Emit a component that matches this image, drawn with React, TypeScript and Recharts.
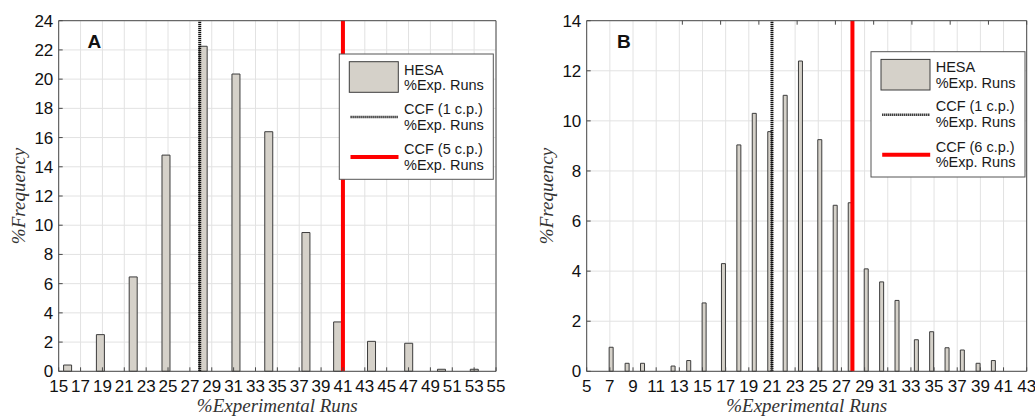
import React from 'react';
import { ComposedChart, Bar, XAxis, YAxis, CartesianGrid, ReferenceLine } from 'recharts';

// Panel A: HESA histogram (bin centres, % frequency)
const binsA = [15.8, 18.8, 21.8, 24.8, 28.2, 31.2, 34.2, 37.6, 40.5, 43.6, 47.0, 50.0, 53.0];
const freqA = [0.43, 2.51, 6.46, 14.8, 22.25, 20.35, 16.4, 9.5, 3.38, 2.05, 1.92, 0.14, 0.14];
const ccf1A = 27.9;
const ccf5A = 41.0;
const xTicksA = [15, 17, 19, 21, 23, 25, 27, 29, 31, 33, 35, 37, 39, 41, 43, 45, 47, 49, 51, 53, 55];
const yTicksA = [0, 2, 4, 6, 8, 10, 12, 14, 16, 18, 20, 22, 24];

// Panel B
const binsB = [7.07, 8.45, 9.78, 12.42, 13.77, 15.1, 16.77, 18.1, 19.43, 20.77, 22.1, 23.42,
  25.09, 26.42, 27.72, 29.1, 30.43, 31.76, 33.43, 34.75, 36.08, 37.4, 38.76, 40.08];
const freqB = [0.96, 0.32, 0.32, 0.21, 0.43, 2.73, 4.3, 9.04, 10.3, 9.57, 11.02, 12.39,
  9.25, 6.63, 6.73, 4.09, 3.57, 2.83, 1.26, 1.58, 0.94, 0.85, 0.32, 0.43];
const ccf1B = 21.0;
const ccf6B = 27.95;
const xTicksB = [5, 7, 9, 11, 13, 15, 17, 19, 21, 23, 25, 27, 29, 31, 33, 35, 37, 39, 41, 43];
const yTicksB = [0, 2, 4, 6, 8, 10, 12, 14];

const legendLabelsA = ['HESA', 'CCF (1 c.p.)', 'CCF (5 c.p.)'];
const legendLabelsB = ['HESA', 'CCF (1 c.p.)', 'CCF (6 c.p.)'];

const SANS = '"Liberation Sans", Arial, sans-serif';
const SERIF = '"Liberation Serif", "Times New Roman", serif';
const AXIS = '#4a4a4a';
const tickStyle = { fontSize: 17, fill: '#111', fontFamily: SANS };

interface PanelProps {
  bins: number[];
  freq: number[];
  ccfA: number;
  ccfB: number;
  xTicks: number[];
  yTicks: number[];
  width: number;
  yAxisWidth: number;
  rightWidth: number;
  barSize: number;
}

const Panel = ({ bins, freq, ccfA, ccfB, xTicks, yTicks, width, yAxisWidth, rightWidth, barSize }: PanelProps) => {
  const data = bins.map((b, i) => ({ bin: b, freq: freq[i] }));
  const xDomain = [xTicks[0], xTicks[xTicks.length - 1]];
  const yDomain = [yTicks[0], yTicks[yTicks.length - 1]];
  return (
    <ComposedChart width={width} height={416} data={data} margin={{ top: 0, right: 0, bottom: 0, left: 0 }}>
      <CartesianGrid stroke="#e2e2e2" />
      <XAxis
        dataKey="bin"
        type="number"
        domain={xDomain}
        ticks={xTicks}
        interval={0}
        height={44.7}
        tickSize={-4}
        tickMargin={12.5}
        axisLine={{ stroke: AXIS }}
        tickLine={{ stroke: AXIS }}
        tick={tickStyle}
      />
      <XAxis
        xAxisId="top"
        orientation="top"
        type="number"
        domain={xDomain}
        ticks={xTicks}
        interval={0}
        height={20.7}
        tickSize={-4}
        axisLine={{ stroke: AXIS }}
        tickLine={{ stroke: AXIS }}
        tickFormatter={() => ''}
      />
      <YAxis
        type="number"
        domain={yDomain}
        ticks={yTicks}
        interval={0}
        width={yAxisWidth}
        tickSize={-4}
        tickMargin={9.4}
        axisLine={{ stroke: AXIS }}
        tickLine={{ stroke: AXIS }}
        tick={tickStyle}
      />
      <YAxis
        yAxisId="right"
        orientation="right"
        type="number"
        domain={yDomain}
        ticks={yTicks}
        interval={0}
        width={rightWidth}
        tickSize={-4}
        axisLine={{ stroke: AXIS }}
        tickLine={{ stroke: AXIS }}
        tickFormatter={() => ''}
      />
      <Bar dataKey="freq" barSize={barSize} fill="#d5d1c9" stroke="#3c3c3c" strokeWidth={1} isAnimationActive={false} />
      <ReferenceLine x={ccfA} stroke="#111" strokeWidth={3} strokeDasharray="1.2 0.8" />
      <ReferenceLine x={ccfB} stroke="#ff0000" strokeWidth={4} />
    </ComposedChart>
  );
};

const LegendBox = ({ x, y, labels }: { x: number; y: number; labels: string[] }) => {
  const tx = x + 64.7;
  const t = { fontFamily: SANS, fontSize: 14.5, fill: '#1a1a1a' };
  return (
    <g>
      <rect x={x} y={y} width={154} height={125.3} fill="#fff" stroke="#555" strokeWidth={1} />
      <rect x={x + 10} y={y + 7.7} width={49} height={30.6} fill="#d5d1c9" stroke="#3c3c3c" strokeWidth={1} />
      <text x={tx} y={y + 20.5} {...t}>{labels[0]}</text>
      <text x={tx} y={y + 36} {...t}>%Exp. Runs</text>
      <line x1={x + 11.2} x2={x + 59.2} y1={y + 63} y2={y + 63} stroke="#111" strokeWidth={2.5} strokeDasharray="1.2 0.8" />
      <text x={tx} y={y + 59.5} {...t}>{labels[1]}</text>
      <text x={tx} y={y + 75.5} {...t}>%Exp. Runs</text>
      <line x1={x + 11.2} x2={x + 59.2} y1={y + 103} y2={y + 103} stroke="#ff0000" strokeWidth={4} />
      <text x={tx} y={y + 100} {...t}>{labels[2]}</text>
      <text x={tx} y={y + 115.5} {...t}>%Exp. Runs</text>
    </g>
  );
};

export default function App() {
  const labelStyle = { fontFamily: SERIF, fontStyle: 'italic' as const, fontSize: 19, fill: '#333' };
  return (
    <div style={{ position: 'absolute', left: 0, top: 0, width: 1035, height: 416, background: '#fff', overflow: 'hidden' }}>
      <div style={{ position: 'absolute', left: 0, top: 0 }}>
        <Panel bins={binsA} freq={freqA} ccfA={ccf1A} ccfB={ccf5A} xTicks={xTicksA} yTicks={yTicksA}
          width={520} yAxisWidth={58.7} rightWidth={24} barSize={8} />
      </div>
      <div style={{ position: 'absolute', left: 520, top: 0 }}>
        <Panel bins={binsB} freq={freqB} ccfA={ccf1B} ccfB={ccf6B} xTicks={xTicksB} yTicks={yTicksB}
          width={515} yAxisWidth={66.7} rightWidth={8.3} barSize={4} />
      </div>
      <svg width={1035} height={416} style={{ position: 'absolute', left: 0, top: 0, pointerEvents: 'none' }}>
        <text x={87.5} y={48} fontFamily={SANS} fontWeight="bold" fontSize={19} fill="#111">A</text>
        <text x={617} y={48} fontFamily={SANS} fontWeight="bold" fontSize={19} fill="#111">B</text>
        <text transform="translate(18,196) rotate(-90)" textAnchor="middle" dominantBaseline="central" {...labelStyle}>%Frequency</text>
        <text transform="translate(546,196) rotate(-90)" textAnchor="middle" dominantBaseline="central" {...labelStyle}>%Frequency</text>
        <text x={277.3} y={412} textAnchor="middle" {...labelStyle}>%Experimental Runs</text>
        <text x={806.7} y={412} textAnchor="middle" {...labelStyle}>%Experimental Runs</text>
        <LegendBox x={339.3} y={54} labels={legendLabelsA} />
        <LegendBox x={871} y={51.7} labels={legendLabelsB} />
      </svg>
    </div>
  );
}
